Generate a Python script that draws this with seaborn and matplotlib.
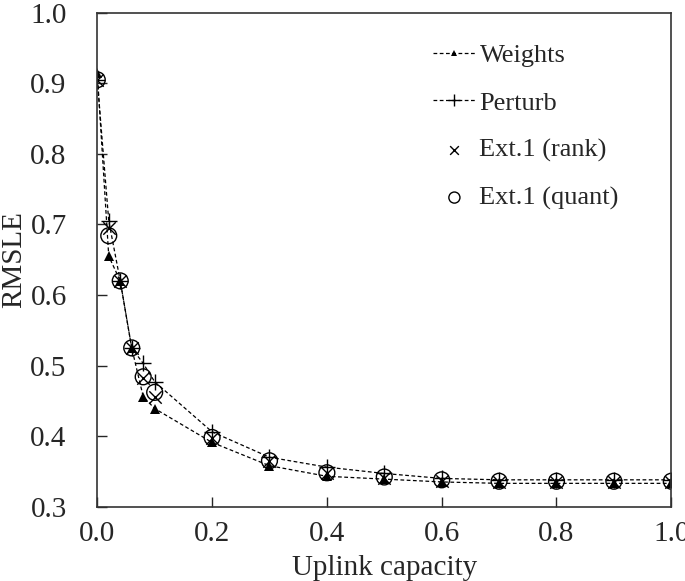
import pandas as pd
import seaborn as sns
import matplotlib.pyplot as plt

sns.set_theme(style="ticks")
plt.rcParams["font.family"] = ["Liberation Serif", "DejaVu Serif"]

# данные
capacity = [0.0, 0.02, 0.04, 0.06, 0.08, 0.1, 0.2, 0.3, 0.4, 0.5, 0.6, 0.7, 0.8, 0.9, 1.0]
weights = [0.915, 0.655, 0.620, 0.525, 0.456, 0.439, 0.391, 0.358, 0.343, 0.339, 0.335,
           0.333, 0.333, 0.333, 0.333]
perturb = [0.905, 0.705, 0.620, 0.525, 0.503, 0.477, 0.406, 0.370, 0.356, 0.347, 0.340,
           0.338, 0.338, 0.338, 0.338]
ext_rank = [0.905, 0.695, 0.620, 0.525, 0.483, 0.456, 0.397, 0.364, 0.347, 0.341, 0.337,
            0.335, 0.335, 0.335, 0.335]
ext_quant = [0.905, 0.684, 0.620, 0.525, 0.484, 0.462, 0.398, 0.365, 0.348, 0.342, 0.338,
             0.336, 0.336, 0.336, 0.336]

data = pd.DataFrame({
    "capacity": capacity,
    "Weights": weights,
    "Perturb": perturb,
    "Ext.1 (rank)": ext_rank,
    "Ext.1 (quant)": ext_quant,
})

fig, ax = plt.subplots(figsize=(6.85, 5.81), dpi=100)
fig.subplots_adjust(left=0.142, right=0.98, top=0.978, bottom=0.128)

sns.lineplot(data=data, x="capacity", y="Weights", ax=ax, color="black", lw=0.9,
             linestyle=(0, (3, 2)), marker="^", markersize=7, markeredgewidth=0,
             label="Weights")
sns.lineplot(data=data, x="capacity", y="Perturb", ax=ax, color="black", lw=0.9,
             linestyle=(0, (3, 2)), marker="+", markersize=12, markeredgewidth=1.0,
             markeredgecolor="black", label="Perturb")
sns.scatterplot(data=data, x="capacity", y="Ext.1 (rank)", ax=ax, color="black",
                marker="x", s=80, linewidth=1.0, label="Ext.1 (rank)")
sns.scatterplot(data=data, x="capacity", y="Ext.1 (quant)", ax=ax, facecolor="none",
                edgecolor="black", marker="o", s=130, linewidth=1.0,
                label="Ext.1 (quant)")

ax.set_xlim(0, 1.0)
ax.set_ylim(0.3, 1.0)
ax.set_xticks([0.0, 0.2, 0.4, 0.6, 0.8, 1.0])
ax.set_yticks([0.3, 0.4, 0.5, 0.6, 0.7, 0.8, 0.9, 1.0])
ax.xaxis.set_major_formatter(plt.FormatStrFormatter("%.1f"))
ax.yaxis.set_major_formatter(plt.FormatStrFormatter("%.1f"))
ax.tick_params(direction="in", length=7, width=1, labelsize=21)
ax.tick_params(axis="y", pad=22)
ax.tick_params(axis="x", pad=10)
ax.set_xlabel("Uplink capacity", fontsize=21, labelpad=6)
ax.set_ylabel("RMSLE", fontsize=21, labelpad=2)
for s in ax.spines.values():
    s.set_linewidth(1.2)
    s.set_color("#333333")

ax.legend(loc="upper right", frameon=False, fontsize=19, handlelength=1.6,
          handletextpad=0.15, labelspacing=0.9, markerscale=0.7,
          bbox_to_anchor=(0.95, 0.985))

plt.savefig("out.png", dpi=100)
